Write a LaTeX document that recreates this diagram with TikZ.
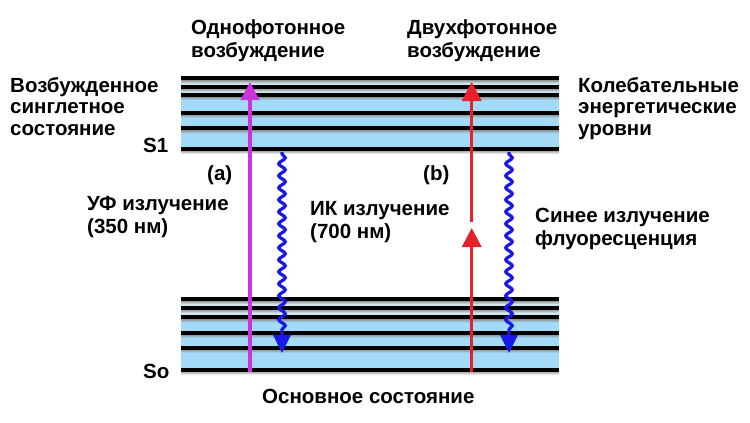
\documentclass[tikz,border=0pt]{standalone}
\usepackage{fontspec}
\setmainfont{Liberation Sans}
\usetikzlibrary{arrows.meta,decorations.pathmorphing}
\definecolor{bandblue}{HTML}{A3DAF7}
\definecolor{bandpale}{HTML}{D3E6EE}
\definecolor{uvviolet}{HTML}{CC33DD}
\definecolor{irred}{HTML}{E8202A}
\definecolor{fluoblue}{HTML}{1A1AE8}
\begin{document}
\begin{tikzpicture}[x=1pt,y=-1pt,
  lbl/.style={font=\fontsize{20.5}{22.5}\selectfont\bfseries, inner sep=0pt, anchor=base west, align=left},
  lbltri/.style={lbl, font=\fontsize{20.5}{21.7}\selectfont\bfseries},
  level/.style={line width=4.2pt, draw=black},
  uvarrow/.style={draw=uvviolet, line width=3.5pt, -{Triangle[width=18pt,length=18pt]}},
  irarrow/.style={draw=irred, line width=3.5pt, -{Triangle[width=19pt,length=19pt]}},
  wavy/.style={draw=fluoblue, line width=3.2pt, decorate,
     decoration={snake, amplitude=3.3pt, segment length=12pt, pre length=2pt, post length=20pt},
     -{Triangle[width=17pt,length=18pt]}}]
\useasboundingbox (0,0) rectangle (750,423);
\fill[white] (0,0) rectangle (750,423);

% upper band
\fill[bandpale] (181,78.3) rectangle (559,95);
\fill[bandblue] (181,95) rectangle (559,149.3);
\foreach \y in {78.3,86.7} {
  \shade[top color=black!45, bottom color=bandpale] (181,\y+1.5) rectangle (559,\y+5);
}
\foreach \y in {95,112.7,128.3} {
  \shade[top color=black!45, bottom color=bandblue] (181,\y+1.5) rectangle (559,\y+5);
}
\shade[top color=black!35, bottom color=white] (181,150.8) rectangle (559,154);
\foreach \y in {78.3,86.7,95,112.7,128.3,149.3} {
  \draw[level] (181,\y) -- (559,\y);
}

% lower band
\fill[bandpale] (181,299) rectangle (559,317.3);
\fill[bandblue] (181,317.3) rectangle (559,370);
\foreach \y in {299,307.7} {
  \shade[top color=black!45, bottom color=bandpale] (181,\y+1.5) rectangle (559,\y+5);
}
\foreach \y in {317.3,332.7,347.7} {
  \shade[top color=black!45, bottom color=bandblue] (181,\y+1.5) rectangle (559,\y+5);
}
\shade[top color=black!35, bottom color=white] (181,371.5) rectangle (559,375);
\foreach \y in {299,307.7,317.3,332.7,347.7,370} {
  \draw[level] (181,\y) -- (559,\y);
}

% arrow end points
\coordinate (uvS) at (250,372);
\coordinate (uvE) at (250,82);
\coordinate (r1S) at (471.7,222);
\coordinate (r1E) at (471.7,82);
\coordinate (r2S) at (471.7,372);
\coordinate (r2E) at (471.7,228);
\coordinate (w1S) at (282,152);
\coordinate (w1E) at (282,353);
\coordinate (w2S) at (509,152);
\coordinate (w2E) at (509,353);

\draw[uvarrow] (uvS) -- (uvE);
\draw[irarrow] (r1S) -- (r1E);
\draw[irarrow] (r2S) -- (r2E);
\draw[wavy] (w1S) -- (w1E);
\draw[wavy] (w2S) -- (w2E);

% labels (anchored at the baseline of the last line)
\node[lbl] (one) at (191,57) {Однофотонное\\возбуждение};
\node[lbl] (two) at (407,57) {Двухфотонное\\возбуждение};
\node[lbltri] (exc) at (10,135.5) {Возбужденное\\синглетное\\состояние};
\node[lbl] (s1) at (143,152) {S1};
\node[lbltri] (vib) at (578,135.5) {Колебательные\\энергетические\\уровни};
\node[lbl] (a) at (207,180) {(a)};
\node[lbl] (b) at (423,180) {(b)};
\node[lbl] (uv) at (87,233) {УФ излучение\\(350 нм)};
\node[lbl] (ir) at (310,238) {ИК излучение\\(700 нм)};
\node[lbl] (bl) at (535,245) {Синее излучение\\флуоресценция};
\node[lbl] (so) at (143,378) {So};
\node[lbl] (ground) at (262,403) {Основное состояние};
\end{tikzpicture}
\end{document}
